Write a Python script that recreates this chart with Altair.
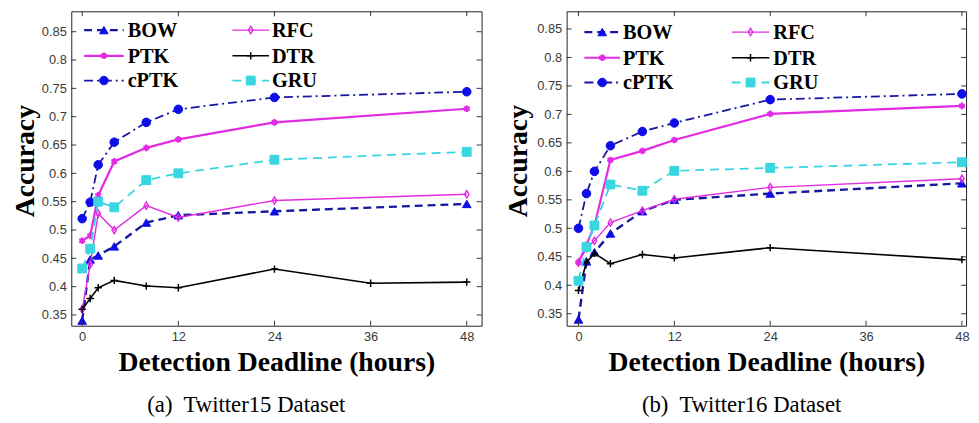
import altair as alt
import pandas as pd

# ---------------- data ----------------
hours = [0, 1, 2, 4, 8, 12, 24, 48]
dtr15_hours = [0, 1, 2, 4, 8, 12, 24, 36, 48]
methods = ["BOW", "RFC", "PTK", "DTR", "cPTK", "GRU"]

t15_bow = [0.340, 0.448, 0.455, 0.471, 0.513, 0.526, 0.533, 0.546]
t15_rfc = [0.360, 0.439, 0.529, 0.500, 0.543, 0.522, 0.552, 0.563]
t15_ptk = [0.481, 0.490, 0.561, 0.621, 0.645, 0.660, 0.690, 0.714]
t15_dtr = [0.360, 0.379, 0.398, 0.411, 0.401, 0.398, 0.431, 0.406, 0.408]
t15_cptk = [0.520, 0.549, 0.615, 0.655, 0.690, 0.713, 0.734, 0.744]
t15_gru = [0.432, 0.467, 0.550, 0.540, 0.588, 0.600, 0.624, 0.638]

t16_bow = [0.340, 0.442, 0.458, 0.491, 0.530, 0.550, 0.561, 0.579]
t16_rfc = [0.440, 0.465, 0.478, 0.510, 0.531, 0.551, 0.572, 0.587]
t16_ptk = [0.440, 0.471, 0.505, 0.620, 0.636, 0.655, 0.701, 0.715]
t16_dtr = [0.391, 0.440, 0.456, 0.438, 0.454, 0.448, 0.466, 0.445]
t16_cptk = [0.500, 0.561, 0.600, 0.645, 0.670, 0.685, 0.726, 0.736]
t16_gru = [0.408, 0.467, 0.505, 0.577, 0.566, 0.601, 0.606, 0.616]

x_ticks = [0, 12, 24, 36, 48]
y_ticks = [0.35, 0.40, 0.45, 0.50, 0.55, 0.60, 0.65, 0.70, 0.75, 0.80, 0.85]

# ---------------- styles ----------------
NAVY = "#16169f"
BLUE = "#0d0de8"
MAG = "#e22be2"
CYAN = "#38d6e0"
ASTER = "M0,-1L0,1M-0.866,-0.5L0.866,0.5M-0.866,0.5L0.866,-0.5"
PLUS = "M-1,0L1,0M0,-1L0,1"
DIAM = "M0,-1L0.62,0L0,1L-0.62,0Z"

styles = {
    "BOW":  dict(lc=NAVY, lw=2.4, dash=[8, 5], mc=BLUE, shape="triangle-up", filled=True, size=75, msw=1),
    "RFC":  dict(lc=MAG, lw=1.4, dash=None, mc=MAG, shape=DIAM, filled=False, size=55, msw=1.4),
    "PTK":  dict(lc=MAG, lw=2.2, dash=None, mc=MAG, shape=ASTER, filled=False, size=45, msw=2.4),
    "DTR":  dict(lc="#000000", lw=1.6, dash=None, mc="#000000", shape=PLUS, filled=False, size=55, msw=1.5),
    "cPTK": dict(lc=NAVY, lw=1.8, dash=[9, 4, 2, 4], mc=BLUE, shape="circle", filled=True, size=75, msw=1),
    "GRU":  dict(lc=CYAN, lw=1.8, dash=[9, 6], mc=CYAN, shape="square", filled=True, size=80, msw=1),
}

SERIF = "Liberation Serif"
SANS = "Liberation Sans"


def point_kwargs(st):
    pk = dict(shape=st["shape"], size=st["size"], opacity=1, strokeWidth=st["msw"])
    if st["filled"]:
        pk.update(filled=True, fill=st["mc"], stroke=st["mc"])
    else:
        pk.update(filled=False, color=st["mc"])
    return pk


def build_panel(series, W, H, xdom, ydom, leg, ytitle_x, caption, cap_x):
    xs = alt.Scale(domain=xdom, nice=False, zero=False)
    ys = alt.Scale(domain=ydom, nice=False, zero=False)
    x_axis = alt.Axis(values=x_ticks, format="d", grid=False, domain=False, tickSize=0,
                      labelFont=SANS, labelFontSize=13, labelColor="#3a3a3a", labelPadding=5,
                      labelFlush=False,
                      title="Detection Deadline (hours)", titleFont=SERIF, titleFontSize=28,
                      titleFontWeight="bold", titleColor="#000000", titleX=W / 2, titleY=45,
                      titleBaseline="alphabetic", titleAlign="center")
    y_axis = alt.Axis(values=y_ticks, format=".2~f", grid=False, domain=False, tickSize=0,
                      labelFont=SANS, labelFontSize=13, labelColor="#3a3a3a", labelPadding=5,
                      title="Accuracy", titleFont=SERIF, titleFontSize=28, titleFontWeight="bold",
                      titleColor="#000000", titleAngle=270, titleX=ytitle_x, titleY=H / 2 - 8,
                      titleBaseline="alphabetic", titleAlign="center")
    X = alt.X("hours:Q", scale=xs, axis=x_axis)
    Y = alt.Y("acc:Q", scale=ys, axis=y_axis)
    layers = []
    for m in methods:
        hrs, vals = series[m]
        df = pd.DataFrame({"hours": hrs, "acc": vals})
        st = styles[m]
        base = alt.Chart(df)
        line_kwargs = dict(color=st["lc"], strokeWidth=st["lw"])
        if st["dash"]:
            line_kwargs["strokeDash"] = st["dash"]
        layers.append(base.mark_line(**line_kwargs).encode(x=X, y=Y))
        layers.append(base.mark_point(**point_kwargs(st)).encode(x=X, y=Y))

    # inner ticks (MATLAB style)
    ydf = pd.DataFrame({"acc": y_ticks})
    xdf = pd.DataFrame({"hours": x_ticks})
    tk = dict(color="#333333", strokeWidth=1)
    layers.append(alt.Chart(ydf).mark_rule(**tk).encode(y=Y, x=alt.value(0), x2=alt.value(5)))
    layers.append(alt.Chart(ydf).mark_rule(**tk).encode(y=Y, x=alt.value(W - 5), x2=alt.value(W)))
    layers.append(alt.Chart(xdf).mark_rule(**tk).encode(x=X, y=alt.value(H - 5), y2=alt.value(H)))
    layers.append(alt.Chart(xdf).mark_rule(**tk).encode(x=X, y=alt.value(0), y2=alt.value(5)))

    # legend (inside plot, 2 columns x 3 rows)
    (c1a, c1b, c1t), (c2a, c2b, c2t), rows = leg
    order = [("BOW", 0, 0), ("RFC", 1, 0), ("PTK", 0, 1), ("DTR", 1, 1), ("cPTK", 0, 2), ("GRU", 1, 2)]
    for name, col, row in order:
        st = styles[name]
        xa, xb, xt = (c1a, c1b, c1t) if col == 0 else (c2a, c2b, c2t)
        yy = rows[row]
        one = pd.DataFrame({"label": [name]})
        lk = dict(color=st["lc"], strokeWidth=st["lw"])
        if st["dash"]:
            lk["strokeDash"] = st["dash"]
        layers.append(alt.Chart(one).mark_rule(**lk).encode(
            x=alt.value(xa), x2=alt.value(xb), y=alt.value(yy)))
        layers.append(alt.Chart(one).mark_point(**point_kwargs(st)).encode(
            x=alt.value((xa + xb) / 2), y=alt.value(yy)))
        layers.append(alt.Chart(one).mark_text(
            font=SERIF, fontSize=20.5, fontWeight="bold", color="#000000",
            align="left", baseline="middle").encode(
            x=alt.value(xt), y=alt.value(yy + 1), text="label:N"))

    # caption
    cap = pd.DataFrame({"label": [caption]})
    layers.append(alt.Chart(cap).mark_text(
        font=SERIF, fontSize=23, color="#000000", align="center", baseline="alphabetic").encode(
        x=alt.value(cap_x), y=alt.value(H + 87), text="label:N"))

    return alt.layer(*layers).properties(width=W, height=H)


s15 = {"BOW": (hours, t15_bow), "RFC": (hours, t15_rfc), "PTK": (hours, t15_ptk),
       "DTR": (dtr15_hours, t15_dtr), "cPTK": (hours, t15_cptk), "GRU": (hours, t15_gru)}
s16 = {"BOW": (hours, t16_bow), "RFC": (hours, t16_rfc), "PTK": (hours, t16_ptk),
       "DTR": (hours, t16_dtr), "cPTK": (hours, t16_cptk), "GRU": (hours, t16_gru)}

left = build_panel(s15, 415, 318, [-1.36, 49.85], [0.331, 0.886],
                   ((13, 53, 57), (163, 200, 203), (19, 45, 70)), -38,
                   "(a)\u00a0 Twitter15 Dataset", 177)
right = build_panel(s16, 404, 318, [-1.485, 48.52], [0.329, 0.881],
                    ((18, 54, 57), (167, 205, 209), (21, 47, 72)), -41,
                    "(b)\u00a0 Twitter16 Dataset", 177)

chart = alt.hconcat(left, right, spacing=86, bounds="flush").configure_view(
    stroke="#222222", strokeWidth=1
).properties(padding={"left": 3, "top": 0, "right": 0, "bottom": 0}, background="white")

chart.save("out.html", embed_options={"renderer": "svg", "actions": False})
